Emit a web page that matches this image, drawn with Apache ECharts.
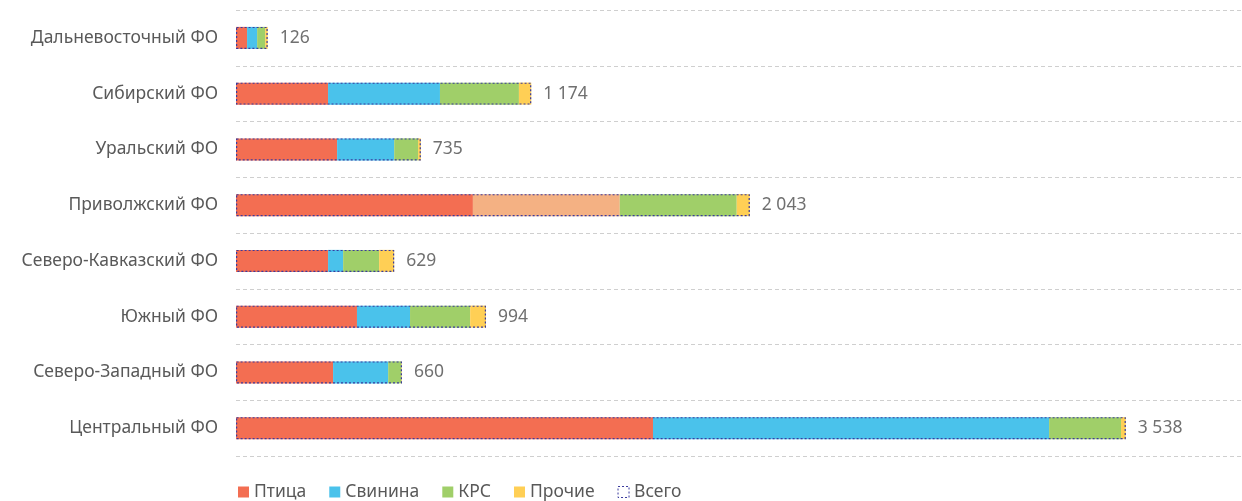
<!DOCTYPE html>
<html>
<head>
<meta charset="utf-8">
<script src="https://cdn.jsdelivr.net/npm/echarts@6/dist/echarts.min.js"></script>
<style>
  html, body { margin: 0; padding: 0; background: #fff; }
  #chart { width: 1242px; height: 501px; }
</style>
</head>
<body>
<div id="chart"></div>
<script>
// округа сверху вниз
var regions = ["Дальневосточный ФО", "Сибирский ФО", "Уральский ФО", "Приволжский ФО",
  "Северо-Кавказский ФО", "Южный ФО", "Северо-Западный ФО", "Центральный ФО"];
var ptitsa  = [44, 366, 402, 942, 366, 481, 386, 1658];
var svinina = [40, 445, 227, 584, 60, 211, 219, 1575];
var krs     = [32, 314, 95, 465, 143, 239, 53, 286];
var prochie = [10, 49, 11, 52, 60, 63, 2, 19];
var vsego   = [126, 1174, 735, 2043, 629, 994, 660, 3538];

var font = "'Noto Sans', sans-serif";
var outline = "#3b3b9e";

function fmt(v) {
  return String(v).replace(/\B(?=(\d{3})+(?!\d))/g, " ");
}

// у Приволжского свинина выделена другим цветом
var svininaData = svinina.map(function (v, i) {
  if (i === 3) return { value: v, itemStyle: { color: "#f4b183" } };
  return v;
});

var chart = echarts.init(document.getElementById("chart"));
chart.setOption({
  animation: false,
  textStyle: { fontFamily: font },
  grid: { left: 236, right: 0, top: 10, bottom: 45 },
  legend: {
    left: 233,
    top: 478,
    itemWidth: 11,
    itemHeight: 11,
    itemGap: 23,
    textStyle: { fontSize: 17.5, color: "#595959", fontFamily: font },
    data: [
      { name: "Птица", icon: "rect" },
      { name: "Свинина", icon: "rect" },
      { name: "КРС", icon: "rect" },
      { name: "Прочие", icon: "rect" },
      { name: "Всего", icon: "rect",
        itemStyle: { color: "transparent", borderColor: outline, borderWidth: 1, borderType: [2, 2] } }
    ]
  },
  xAxis: {
    type: "value",
    min: 0,
    max: 4000,
    show: false
  },
  yAxis: {
    type: "category",
    inverse: true,
    data: regions,
    axisLine: { show: false },
    axisTick: { show: false },
    axisLabel: { fontSize: 17.5, color: "#595959", margin: 18, fontFamily: font },
    splitLine: { show: true, lineStyle: { color: "#cfcfcf", type: [4, 3], width: 1 } }
  },
  series: [
    { name: "Птица", type: "bar", stack: "a", barWidth: 22, data: ptitsa,
      itemStyle: { color: "#f36e52" } },
    { name: "Свинина", type: "bar", stack: "a", barWidth: 22, data: svininaData,
      itemStyle: { color: "#4ac2eb" } },
    { name: "КРС", type: "bar", stack: "a", barWidth: 22, data: krs,
      itemStyle: { color: "#a0cf69" } },
    { name: "Прочие", type: "bar", stack: "a", barWidth: 22, data: prochie,
      itemStyle: { color: "#ffcf55" } },
    { name: "Всего", type: "bar", barWidth: 22, barGap: "-100%", data: vsego,
      itemStyle: { color: "transparent", borderColor: outline, borderWidth: 1.2, borderType: [2, 2] },
      label: {
        show: true, position: "right", distance: 12,
        fontSize: 17.5, color: "#707070", fontFamily: font,
        formatter: function (p) { return fmt(p.value); }
      } }
  ]
});
</script>
</body>
</html>
